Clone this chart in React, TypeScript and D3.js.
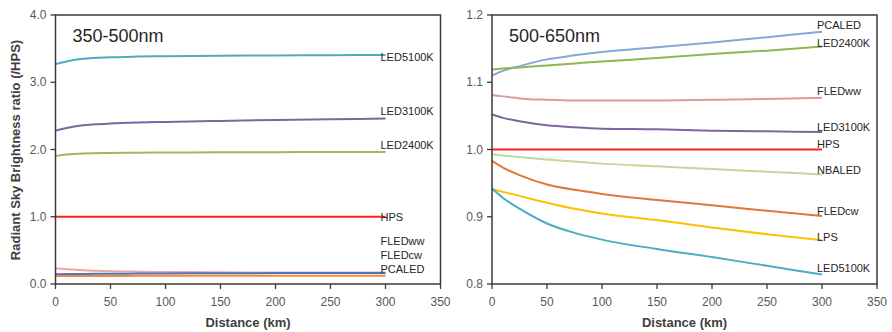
import React from "react";
import * as d3 from "d3";

const distances = [0, 10, 25, 50, 75, 100, 150, 200, 250, 300];

// Left panel: 350-500nm
const leftNames = ["LED5100K", "LED3100K", "LED2400K", "HPS", "FLEDww", "PCALED", "FLEDcw"];
const leftColors = ["#4bacc6", "#8064a2", "#9bbb59", "#ff2020", "#e8a8a8", "#4f74b8", "#f08a3c"];
const leftValues = [
  [3.27, 3.31, 3.35, 3.372, 3.382, 3.388, 3.394, 3.398, 3.402, 3.405],
  [2.28, 2.32, 2.36, 2.385, 2.4, 2.41, 2.425, 2.44, 2.45, 2.46],
  [1.905, 1.925, 1.94, 1.948, 1.952, 1.955, 1.958, 1.96, 1.962, 1.963],
  [1, 1, 1, 1, 1, 1, 1, 1, 1, 1],
  [0.23, 0.22, 0.205, 0.19, 0.183, 0.178, 0.174, 0.172, 0.171, 0.17],
  [0.145, 0.147, 0.15, 0.153, 0.155, 0.157, 0.16, 0.162, 0.164, 0.165],
  [0.12, 0.12, 0.12, 0.12, 0.121, 0.121, 0.122, 0.122, 0.123, 0.123],
];
const leftLabelNames = ["LED5100K", "LED3100K", "LED2400K", "HPS", "FLEDww", "FLEDcw", "PCALED"];
const leftLabelValues = [3.32, 2.513, 2.007, 0.937, 0.58, 0.367, 0.159];
const leftTicks = [0, 1, 2, 3, 4];

// Right panel: 500-650nm
const rightNames = ["PCALED", "LED2400K", "FLEDww", "LED3100K", "HPS", "NBALED", "FLEDcw", "LPS", "LED5100K"];
const rightColors = ["#86a6d9", "#8fb753", "#dd9a9a", "#8064a2", "#ff2020", "#c3d69b", "#e0773a", "#ffc000", "#4bacc6"];
const rightValues = [
  [1.11, 1.117, 1.124, 1.134, 1.14, 1.145, 1.152, 1.159, 1.167, 1.175],
  [1.119, 1.1205, 1.122, 1.125, 1.128, 1.131, 1.136, 1.142, 1.147, 1.153],
  [1.081, 1.079, 1.076, 1.074, 1.073, 1.073, 1.073, 1.074, 1.075, 1.077],
  [1.052, 1.047, 1.042, 1.036, 1.033, 1.031, 1.03, 1.028, 1.027, 1.026],
  [1, 1, 1, 1, 1, 1, 1, 1, 1, 1],
  [0.993, 0.991, 0.989, 0.985, 0.982, 0.979, 0.975, 0.971, 0.967, 0.963],
  [0.983, 0.973, 0.962, 0.948, 0.94, 0.934, 0.925, 0.917, 0.909, 0.901],
  [0.941, 0.937, 0.931, 0.921, 0.912, 0.905, 0.895, 0.884, 0.874, 0.865],
  [0.942, 0.928, 0.912, 0.89, 0.876, 0.866, 0.852, 0.84, 0.827, 0.814],
];
const rightLabelNames = ["PCALED", "LED2400K", "FLEDww", "LED3100K", "HPS", "NBALED", "FLEDcw", "LPS", "LED5100K"];
const rightLabelValues = [1.1787, 1.1529, 1.081, 1.028, 1.0027, 0.9636, 0.9026, 0.8644, 0.8174];
const rightTicks = [0.8, 0.9, 1.0, 1.1, 1.2];

const xTicks = [0, 50, 100, 150, 200, 250, 300, 350];

const FONT = "'Liberation Sans', Arial, sans-serif";

type PanelProps = {
  left: number;
  right: number;
  top: number;
  bottom: number;
  yDomain: [number, number];
  yTicks: number[];
  yFormat: (v: number) => string;
  names: string[];
  colors: string[];
  values: number[][];
  labelNames: string[];
  labelValues: number[];
  title: string;
};

function Panel(p: PanelProps) {
  const x = d3.scaleLinear().domain([0, 350]).range([p.left, p.right]);
  const y = d3.scaleLinear().domain(p.yDomain).range([p.bottom, p.top]);
  const line = d3
    .line<number>()
    .x((_, i) => x(distances[i]))
    .y((d) => y(d))
    .curve(d3.curveMonotoneX);
  const axisColor = "#3a3a3a";
  const labelX = x(300) - 5;
  return (
    <g>
      {p.values.map((vals, i) => (
        <path
          key={p.names[i]}
          d={line(vals) || ""}
          fill="none"
          stroke={p.colors[i]}
          strokeWidth={2}
          strokeLinecap="butt"
        />
      ))}
      <rect
        x={p.left}
        y={p.top}
        width={p.right - p.left}
        height={p.bottom - p.top}
        fill="none"
        stroke={axisColor}
        strokeWidth={1.5}
      />
      {p.yTicks.map((t) => (
        <g key={"y" + t}>
          <line x1={p.left - 5} x2={p.left} y1={y(t)} y2={y(t)} stroke={axisColor} strokeWidth={1.3} />
          <text
            x={p.left - 9}
            y={y(t)}
            dy="0.35em"
            textAnchor="end"
            fontSize={12}
            fill="#595959"
            fontFamily={FONT}
          >
            {p.yFormat(t)}
          </text>
        </g>
      ))}
      {xTicks.map((t) => (
        <g key={"x" + t}>
          <line x1={x(t)} x2={x(t)} y1={p.bottom} y2={p.bottom + 5} stroke={axisColor} strokeWidth={1.3} />
          <text
            x={x(t)}
            y={p.bottom + 22}
            textAnchor="middle"
            fontSize={12}
            fill="#595959"
            fontFamily={FONT}
          >
            {t}
          </text>
        </g>
      ))}
      <text
        x={(p.left + p.right) / 2}
        y={p.bottom + 43}
        textAnchor="middle"
        fontSize={13}
        fontWeight="bold"
        fill="#404040"
        fontFamily={FONT}
      >
        Distance (km)
      </text>
      <text x={p.left + 17} y={42} fontSize={18} fill="#262626" fontFamily={FONT}>
        {p.title}
      </text>
      {p.labelNames.map((n, i) => (
        <text
          key={"l" + n}
          x={labelX}
          y={y(p.labelValues[i])}
          fontSize={11}
          fill="#262626"
          fontFamily={FONT}
        >
          {n}
        </text>
      ))}
    </g>
  );
}

export default function App() {
  return (
    <svg
      width={892}
      height={332}
      style={{ position: "absolute", left: 0, top: 0, background: "#fff" }}
    >
      <rect x={0} y={0} width={892} height={332} fill="#fff" />
      <text
        transform="translate(20,150) rotate(-90)"
        textAnchor="middle"
        fontSize={13}
        fontWeight="bold"
        fill="#404040"
        fontFamily={FONT}
      >
        Radiant Sky Brightness ratio (/HPS)
      </text>
      <Panel
        left={55.5}
        right={440.5}
        top={15}
        bottom={284}
        yDomain={[0, 4]}
        yTicks={leftTicks}
        yFormat={d3.format(".1f")}
        names={leftNames}
        colors={leftColors}
        values={leftValues}
        labelNames={leftLabelNames}
        labelValues={leftLabelValues}
        title="350-500nm"
      />
      <Panel
        left={492}
        right={877}
        top={15}
        bottom={284}
        yDomain={[0.8, 1.2]}
        yTicks={rightTicks}
        yFormat={d3.format(".1f")}
        names={rightNames}
        colors={rightColors}
        values={rightValues}
        labelNames={rightLabelNames}
        labelValues={rightLabelValues}
        title="500-650nm"
      />
    </svg>
  );
}
